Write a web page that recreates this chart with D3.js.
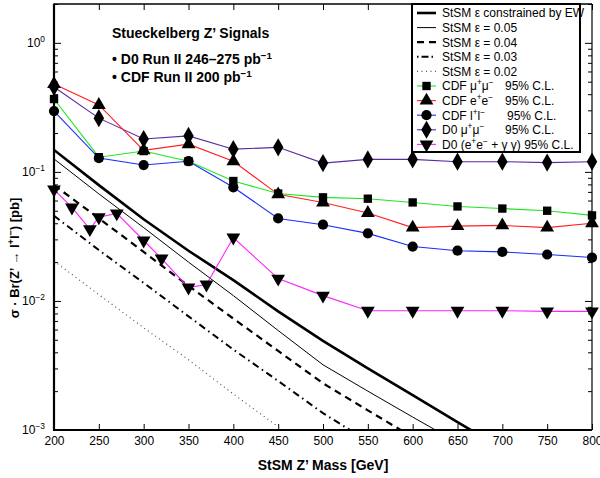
<!DOCTYPE html>
<html>
<head>
<meta charset="utf-8">
<script src="https://cdn.jsdelivr.net/npm/d3@7"></script>
<style>
body { margin: 0; background: #fff; }
text { font-family: "Liberation Sans", Arial, Helvetica, sans-serif; }
</style>
</head>
<body>
<div id="chart"></div>
<script>
// masses [GeV]
var masses = [200, 250, 300, 350, 400, 450, 500, 550, 600, 650, 700, 750, 800];

// StSM predictions
var stsmEW = [0.148, 0.079, 0.043, 0.0245, 0.0145, 0.0083, 0.0049, 0.0030, 0.00186, 0.00115, 0.00072, 0.00045, 0.00028];
var stsm05 = [0.126, 0.0676, 0.037, 0.020, 0.011, 0.0059, 0.0032, 0.0020, 0.00126, 0.0008, 0.0005, 0.00032, 0.0002];
var stsm04 = [0.079, 0.0437, 0.024, 0.0131, 0.0073, 0.0041, 0.0023, 0.00142, 0.00088, 0.00055, 0.00035, 0.00022, 0.00014];
var stsm03 = [0.0457, 0.0248, 0.0138, 0.0076, 0.0042, 0.0024, 0.00135, 0.00082, 0.00052, 0.00033, 0.00021, 0.00013, 0.00008];
var stsm02 = [0.0204, 0.0112, 0.0062, 0.0035, 0.0019, 0.00106, 0.0006, 0.00037, 0.00023, 0.00015, 0.00009, 0.00006, 0.00004];

// 95% C.L. limits
var cdfMuMu = [0.367, 0.13, 0.145, 0.121, 0.085, 0.068, 0.0635, 0.062, 0.058, 0.054, 0.052, 0.050, 0.046];
var cdfEE   = [0.48, 0.33, 0.147, 0.164, 0.121, 0.067, 0.058, 0.048, 0.037, 0.038, 0.0385, 0.037, 0.040];
var cdfLL   = [0.296, 0.128, 0.113, 0.121, 0.076, 0.0436, 0.039, 0.0334, 0.0264, 0.0245, 0.024, 0.0229, 0.0217];
var d0MuMu  = [0.455, 0.261, 0.18, 0.19, 0.15, 0.155, 0.117, 0.125, 0.125, 0.12, 0.12, 0.118, 0.12];
var d0EEMasses = [200, 220, 240, 250, 270, 300, 320, 350, 370, 400, 450, 500, 550, 600, 650, 700, 750, 800];
var d0EE    = [0.073, 0.053, 0.036, 0.0445, 0.0477, 0.0294, 0.0213, 0.0127, 0.0134, 0.031, 0.0149, 0.011, 0.0084, 0.0084, 0.0084, 0.0084, 0.0083, 0.0083];

var massTicks = [200, 250, 300, 350, 400, 450, 500, 550, 600, 650, 700, 750, 800];
var decadeTicks = [1e-3, 1e-2, 1e-1, 1];

var svgWidth = 600, svgHeight = 478;
var plotLeft = 54, plotRight = 592, plotTop = 4, plotBottom = 430;

var svg = d3.select("#chart").append("svg")
    .attr("width", svgWidth)
    .attr("height", svgHeight);

var x = d3.scaleLinear().domain([200, 800]).range([plotLeft, plotRight]);
var y = d3.scaleLog().domain([1e-3, 2]).range([plotBottom, plotTop]);

svg.append("clipPath").attr("id", "plotClip")
  .append("rect")
    .attr("x", plotLeft).attr("y", plotTop)
    .attr("width", plotRight - plotLeft).attr("height", plotBottom - plotTop);

// helper: text with superscripts, parts = [[str, isSup], ...]
function rich(sel, parts, supSize) {
  parts.forEach(function(p) {
    var t = sel.append("tspan").text(p[0]);
    if (p[1]) t.attr("baseline-shift", "super").attr("font-size", supSize || "70%");
  });
  return sel;
}

// axes
var minorTicks = [];
[-3, -2, -1, 0].forEach(function(d) {
  for (var k = 2; k <= 9; k++) {
    var v = k * Math.pow(10, d);
    if (v <= 2) minorTicks.push(v);
  }
});

svg.append("g")
    .attr("transform", `translate(0, ${plotBottom})`)
    .call(d3.axisBottom(x).tickValues(massTicks).tickSize(-6).tickPadding(6).tickFormat(d3.format("d")))
    .call(g => g.select(".domain").remove())
    .call(g => g.selectAll("text").attr("font-size", 12).attr("font-family", "Liberation Sans, Arial, sans-serif"));

svg.append("g")
    .attr("transform", `translate(0, ${plotTop})`)
    .call(d3.axisTop(x).tickValues(massTicks).tickSize(-6).tickFormat(""))
    .call(g => g.select(".domain").remove());

var yLeft = svg.append("g")
    .attr("transform", `translate(${plotLeft}, 0)`)
    .call(d3.axisLeft(y).tickValues(decadeTicks).tickSize(-7).tickFormat(""))
    .call(g => g.select(".domain").remove());
yLeft.selectAll(".tick").append("text")
    .attr("x", -9).attr("dy", "0.3em")
    .attr("fill", "#000").attr("font-size", 12)
    .attr("text-anchor", "end")
    .each(function(d) {
      var e = Math.round(Math.log10(d));
      rich(d3.select(this), [["10", false], [e === 0 ? "0" : "\u2212" + (-e), true]]);
    });

svg.append("g")
    .attr("transform", `translate(${plotLeft}, 0)`)
    .call(d3.axisLeft(y).tickValues(minorTicks).tickSize(-4).tickFormat(""))
    .call(g => g.select(".domain").remove());

svg.append("g")
    .attr("transform", `translate(${plotRight}, 0)`)
    .call(d3.axisRight(y).tickValues(decadeTicks).tickSize(-7).tickFormat(""))
    .call(g => g.select(".domain").remove());
svg.append("g")
    .attr("transform", `translate(${plotRight}, 0)`)
    .call(d3.axisRight(y).tickValues(minorTicks).tickSize(-4).tickFormat(""))
    .call(g => g.select(".domain").remove());

svg.selectAll(".tick line").attr("stroke", "#000").attr("stroke-width", 1);

// theory curves
var line = d3.line().x(d => x(d[0])).y(d => y(d[1]));
var theory = [
  {vals: stsmEW, w: 2.6, dash: null, color: "#000"},
  {vals: stsm05, w: 1, dash: null, color: "#000"},
  {vals: stsm04, w: 2.2, dash: "7,5", color: "#000"},
  {vals: stsm03, w: 2, dash: "7,4,1.5,4", color: "#000"},
  {vals: stsm02, w: 1.2, dash: "1,3.5", color: "#555"}
];
var theoryG = svg.append("g").attr("clip-path", "url(#plotClip)");
theory.forEach(function(s) {
  theoryG.append("path")
      .datum(masses.map((m, i) => [m, s.vals[i]]))
      .attr("d", line)
      .attr("fill", "none")
      .attr("stroke", s.color)
      .attr("stroke-width", s.w)
      .attr("stroke-dasharray", s.dash);
});

// limit curves
var limits = [
  {m: masses, vals: d0MuMu, color: "#5b2a9e", sym: "diamond"},
  {m: masses, vals: cdfMuMu, color: "#1ee61e", sym: "square"},
  {m: masses, vals: cdfEE, color: "#ff2020", sym: "triangle"},
  {m: masses, vals: cdfLL, color: "#1a2cff", sym: "circle"},
  {m: d0EEMasses, vals: d0EE, color: "#ff22ff", sym: "down"}
];

function symbolPath(kind) {
  if (kind === "diamond") return d3.symbol().type(d3.symbolDiamond).size(95)();
  if (kind === "square") return d3.symbol().type(d3.symbolSquare).size(70)();
  if (kind === "circle") return d3.symbol().type(d3.symbolCircle).size(82)();
  return d3.symbol().type(d3.symbolTriangle).size(82)();
}
function symbolTransform(kind, px, py) {
  if (kind === "down") return `translate(${px}, ${py}) rotate(180)`;
  return `translate(${px}, ${py})`;
}

limits.forEach(function(s) {
  svg.append("path")
      .datum(s.m.map((m, i) => [m, s.vals[i]]))
      .attr("d", line)
      .attr("fill", "none")
      .attr("stroke", s.color)
      .attr("stroke-width", 1.1);
});
limits.forEach(function(s) {
  svg.append("g").selectAll("path")
      .data(s.m.map((m, i) => [m, s.vals[i]]))
      .enter()
      .append("path")
      .attr("d", symbolPath(s.sym))
      .attr("transform", d => symbolTransform(s.sym, x(d[0]), y(d[1])))
      .attr("fill", "#000");
});

// frame
svg.append("line").attr("x1", plotLeft).attr("x2", plotLeft).attr("y1", plotTop - 0.5).attr("y2", plotBottom + 1)
    .attr("stroke", "#000").attr("stroke-width", 2.2);
svg.append("line").attr("x1", plotLeft - 1).attr("x2", plotRight).attr("y1", plotBottom).attr("y2", plotBottom)
    .attr("stroke", "#000").attr("stroke-width", 2.2);
svg.append("line").attr("x1", plotLeft).attr("x2", plotRight).attr("y1", plotTop).attr("y2", plotTop)
    .attr("stroke", "#000").attr("stroke-width", 1.6);
svg.append("line").attr("x1", plotRight).attr("x2", plotRight).attr("y1", plotTop).attr("y2", plotBottom)
    .attr("stroke", "#000").attr("stroke-width", 1.2);

// legend
var legend = svg.append("g");
legend.append("rect")
    .attr("x", 412).attr("y", plotTop).attr("width", 168).attr("height", 148)
    .attr("fill", "#fff").attr("stroke", "#000").attr("stroke-width", 2);

var legendItems = [
  {label: [["StSM \u03b5  constrained by EW", false]], w: 2.6, dash: null, color: "#000"},
  {label: [["StSM \u03b5 = 0.05", false]], w: 1, dash: null, color: "#000"},
  {label: [["StSM \u03b5 = 0.04", false]], w: 2.2, dash: "7,5", color: "#000"},
  {label: [["StSM \u03b5 = 0.03", false]], w: 2, dash: "1.5,3,7,3", color: "#000"},
  {label: [["StSM \u03b5 = 0.02", false]], w: 1.2, dash: "1,3.5", color: "#555"},
  {label: [["CDF \u03bc", false], ["+", true], ["\u03bc", false], ["\u2212", true]], cl: 505, color: "#1ee61e", sym: "square"},
  {label: [["CDF e", false], ["+", true], ["e", false], ["\u2212", true]], cl: 505, color: "#ff2020", sym: "triangle"},
  {label: [["CDF l", false], ["+", true], ["l", false], ["\u2212", true]], cl: 507, color: "#1a2cff", sym: "circle"},
  {label: [["D0 \u03bc", false], ["+", true], ["\u03bc", false], ["\u2212", true]], cl: 505, color: "#5b2a9e", sym: "diamond"},
  {label: [["D0 (e", false], ["+", true], ["e", false], ["\u2212", true], [" + \u03b3 \u03b3)  95% C.L.", false]], color: "#ff22ff", sym: "down"}
];

legendItems.forEach(function(it, i) {
  var cy = 13 + i * 14.6;
  legend.append("line")
      .attr("x1", 417).attr("x2", 436).attr("y1", cy).attr("y2", cy)
      .attr("stroke", it.color)
      .attr("stroke-width", it.sym ? 1.1 : it.w)
      .attr("stroke-dasharray", it.dash || null);
  if (it.sym) {
    legend.append("path")
        .attr("d", symbolPath(it.sym))
        .attr("transform", symbolTransform(it.sym, 426.5, cy))
        .attr("fill", "#000");
  }
  var t = legend.append("text")
      .attr("x", 442).attr("y", cy + 4.3)
      .attr("font-size", 12);
  rich(t, it.label);
  if (it.cl) {
    legend.append("text")
        .attr("x", it.cl).attr("y", cy + 4.3)
        .attr("font-size", 12)
        .text("95% C.L.");
  }
});

// annotation
svg.append("text")
    .attr("x", 112).attr("y", 38)
    .attr("font-size", 14).attr("font-weight", "bold")
    .text("Stueckelberg Z\u2019 Signals");
var a1 = svg.append("text")
    .attr("x", 112).attr("y", 64)
    .attr("font-size", 14).attr("font-weight", "bold");
rich(a1, [["\u2022 D0 Run II 246\u2013275 pb", false], ["\u22121", true]]);
var a2 = svg.append("text")
    .attr("x", 112).attr("y", 82)
    .attr("font-size", 14).attr("font-weight", "bold");
rich(a2, [["\u2022 CDF Run II 200 pb", false], ["\u22121", true]]);

// axis titles
svg.append("text")
    .attr("x", 323).attr("y", 470)
    .attr("text-anchor", "middle")
    .attr("font-size", 14).attr("font-weight", "bold")
    .text("StSM Z\u2019 Mass [GeV]");

var yt = svg.append("text")
    .attr("transform", "translate(19, 258) rotate(-90)")
    .attr("text-anchor", "middle")
    .attr("font-size", 13).attr("font-weight", "bold");
rich(yt, [["\u03c3 \u00b7 Br(Z\u2019 \u2192 l", false], ["+", true], ["l", false], ["\u2212", true], [")  [pb]", false]]);
</script>
</body>
</html>
